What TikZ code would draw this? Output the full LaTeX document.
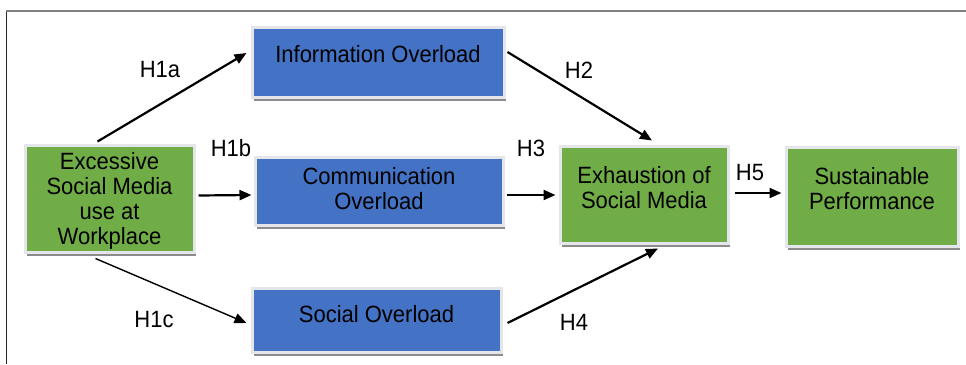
\documentclass[tikz,border=0pt]{standalone}
\usepackage{fontspec}
\setmainfont{Liberation Sans}
\usetikzlibrary{arrows.meta,calc,shadows}
\definecolor{boxgreen}{RGB}{112,173,71}
\definecolor{boxblue}{RGB}{68,114,196}
\definecolor{boxedge}{RGB}{228,230,236}
\newcommand{\tallfont}[1]{\scalebox{1}[1.07]{#1}}
\begin{document}
\begin{tikzpicture}[x=1pt,y=-1pt,
  boxbase/.style={draw=boxedge, line width=3pt, inner sep=0pt,
    drop shadow={shadow xshift=2pt, shadow yshift=-4pt, fill=black!45, opacity=1}},
  greenbox/.style={boxbase, fill=boxgreen},
  bluebox/.style={boxbase, fill=boxblue},
  boxtext/.style={inner sep=0pt, align=center, font=\fontsize{22}{25}\selectfont, text=black},
  hlabel/.style={inner sep=0pt, font=\fontsize{22}{25}\selectfont, text=black},
  conn/.style={line width=2.2pt, -{Triangle[length=12pt,width=10pt]}},
  thinconn/.style={line width=1.4pt, -{Triangle[length=12pt,width=10pt]}}]
\useasboundingbox (0,0) rectangle (966,364);
% frame
\draw[black!85, line width=1.5pt] (6.5,11) -- (6.5,364);
\draw[black!50, line width=2.5pt] (5.75,11) -- (966,11);
% boxes
\node[greenbox, minimum width=169pt, minimum height=107pt] (ex) at (109.5,198.5) {};
\node[bluebox, minimum width=252pt, minimum height=70pt] (info) at (378,62) {};
\node[bluebox, minimum width=248pt, minimum height=68pt] (comm) at (379,191) {};
\node[bluebox, minimum width=249pt, minimum height=64pt] (soc) at (376.5,320) {};
\node[greenbox, minimum width=168pt, minimum height=97pt] (exh) at (644,194.5) {};
\node[greenbox, minimum width=172pt, minimum height=99pt] (sus) at (872,196.5) {};
% box texts
\node[boxtext] (ext) at (109.5,200.5) {\tallfont{Excessive}\\\tallfont{Social Media}\\\tallfont{use at}\\\tallfont{Workplace}};
\node[boxtext] (infot) at (378,54) {\tallfont{Information Overload}};
\node[boxtext] (commt) at (379,189) {\tallfont{Communication}\\\tallfont{Overload}};
\node[boxtext] (soct) at (376.5,314) {\tallfont{Social Overload}};
\node[boxtext] (exht) at (644,188) {\tallfont{Exhaustion of}\\\tallfont{Social Media}};
\node[boxtext] (sust) at (872,189) {\tallfont{Sustainable}\\\tallfont{Performance}};
% connectors
\draw[conn] ($(ex.north)+(-12,-2)$) -- ($(info.west)+(-4,-9)$);
\draw[conn] ($(ex.east)+(3,-3)$) -- ($(comm.west)+(-2,4)$);
\draw[thinconn] ($(ex.south)+(-14,5)$) -- ($(soc.west)+(-4,3)$);
\draw[conn] ($(info.east)+(2,-10)$) -- ($(exh.north)+(8,-4)$);
\draw[conn] ($(comm.east)+(2,4)$) -- ($(exh.west)+(-3,0.5)$);
\draw[conn] ($(soc.east)+(5,3)$) -- ($(exh.south)+(14,4)$);
\draw[conn] ($(exh.east)+(5,-1.5)$) -- ($(sus.west)+(-3,-3.5)$);
% hypothesis labels
\node[hlabel] (h1a) at (160,70) {\tallfont{H1a}};
\node[hlabel] (h1b) at (231,148) {\tallfont{H1b}};
\node[hlabel] (h1c) at (154,320) {\tallfont{H1c}};
\node[hlabel] (h2) at (579,70) {\tallfont{H2}};
\node[hlabel] (h3) at (531,148) {\tallfont{H3}};
\node[hlabel] (h4) at (574,322) {\tallfont{H4}};
\node[hlabel] (h5) at (750,173) {\tallfont{H5}};
\end{tikzpicture}
\end{document}
